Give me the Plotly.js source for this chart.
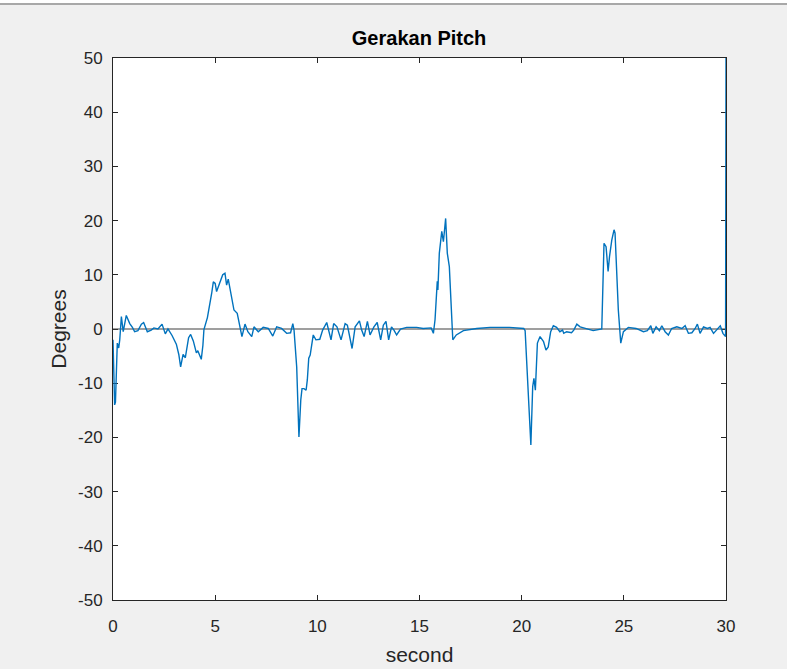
<!DOCTYPE html>
<html>
<head>
<meta charset="utf-8">
<script src="https://cdn.plot.ly/plotly-3.0.1.min.js"></script>
<style>
html,body{margin:0;padding:0;background:#f0f0f0;}
#chart{width:787px;height:669px;}
</style>
</head>
<body>
<div id="chart"></div>
<script>
// time in seconds
const timeSec = [0,0.05,0.08,0.12,0.17,0.21,0.28,0.33,0.41,0.5,0.65,0.75,0.82,0.95,1.06,1.22,1.39,1.5,1.68,1.87,2.0,2.2,2.4,2.56,2.69,2.89,3.0,3.1,3.22,3.31,3.43,3.54,3.7,3.8,3.93,4.08,4.15,4.32,4.4,4.45,4.62,4.72,4.83,4.91,5.0,5.07,5.2,5.37,5.48,5.56,5.64,5.76,5.92,6.08,6.22,6.31,6.46,6.6,6.79,6.9,7.11,7.35,7.6,7.82,8.01,8.25,8.5,8.69,8.8,8.86,8.99,9.1,9.19,9.25,9.35,9.45,9.51,9.58,9.65,9.72,9.8,9.93,10.12,10.26,10.46,10.67,10.8,10.96,11.16,11.36,11.47,11.7,11.85,12.06,12.17,12.29,12.45,12.58,12.77,12.93,13.1,13.23,13.36,13.49,13.63,13.75,13.88,14.07,14.37,14.86,15.18,15.57,15.68,15.76,15.84,15.87,15.9,15.97,16.09,16.17,16.28,16.36,16.46,16.58,16.63,16.8,17.15,17.8,18.45,19.4,20.1,20.17,20.28,20.45,20.54,20.6,20.67,20.77,20.9,21.07,21.19,21.3,21.42,21.55,21.71,21.87,22.0,22.06,22.2,22.44,22.55,22.7,22.86,23.2,23.5,23.92,24.03,24.13,24.23,24.3,24.41,24.52,24.57,24.73,24.85,24.98,25.14,25.22,25.6,25.96,26.15,26.32,26.42,26.58,26.74,26.86,27.02,27.18,27.34,27.59,27.84,28.0,28.16,28.33,28.49,28.6,28.73,28.9,29.09,29.22,29.39,29.55,29.72,29.85,29.98,30.0];
// pitch in degrees
const pitchDeg = [-2,-8,-14,-13.5,-6,-2.6,-3.5,-2,2.3,-0.5,2.5,1.5,1,0.3,-0.5,-0.3,0.9,1.2,-0.5,-0.2,0.2,0,0.9,-0.9,0,-1.2,-2.0,-2.8,-4.7,-7.0,-4.7,-5.3,-1.6,-1,-2.2,-4.4,-4,-5.6,-3,-0.1,2.1,4.1,6.6,8.7,8.4,6.9,8.4,10,10.3,8.1,9.2,6.6,3.5,2.9,0.4,-1.4,0.9,-0.5,-1.4,0.4,-0.5,0.3,0.1,-1.3,0.4,0.1,-0.8,-0.7,1.0,-0.2,-7,-19.9,-13.1,-11,-11,-11.3,-9.4,-5.4,-4.8,-2.6,-1.1,-2,-1.9,-0.2,1.2,-2,1.0,0.4,-2,1,0.7,-3.6,0.4,1.5,-0.2,-1.4,1.4,-1.1,0.4,1.2,-2,0.7,1.4,-2,0.4,-0.2,-1.1,0,0.3,0.3,0.1,0.2,-0.8,1.7,6,8.8,7.2,14,18,16.1,20.4,14,11.5,0.1,-2,-1.1,-0.3,0.1,0.3,0.3,0.1,-0.3,-8.2,-21.4,-10.6,-9.1,-11.3,-2.6,-1.4,-2.3,-3.9,-3.3,-0.5,0.6,0.3,-0.5,-0.2,-0.8,-0.5,-0.7,-0.2,0.9,0.4,0,-0.3,0,15.8,15.2,10.6,13.4,16.4,18.3,17.7,3.5,-2.6,-0.5,0.1,0.3,0.1,-0.5,-0.3,0.6,-0.8,0.4,-0.3,0.6,-0.5,-1.1,0.1,0.4,0.1,0.6,-0.8,-0.7,0.1,0.9,-0.8,0.4,0.1,0.3,-0.8,-0.2,0.6,-0.8,-1.4,50];
// reference line at zero
const refX = [0, 30];
const refY = [0, 0];
const xTicks = [0,5,10,15,20,25,30];
const yTicks = [-50,-40,-30,-20,-10,0,10,20,30,40,50];

const fontFam = '"Liberation Sans", Arial, Helvetica, sans-serif';
const axColor = '#262626';

const traces = [
  {x: refX, y: refY, type: 'scatter', mode: 'lines',
   line: {color: '#404040', width: 1.2}, hoverinfo: 'skip', showlegend: false},
  {x: timeSec, y: pitchDeg, type: 'scatter', mode: 'lines',
   line: {color: '#0072BD', width: 1.4}, hoverinfo: 'x+y', showlegend: false}
];

const axisCommon = {
  showline: true, linecolor: axColor, linewidth: 1, mirror: 'ticks',
  ticks: 'inside', ticklen: 5, tickcolor: axColor, tickwidth: 1,
  showgrid: false, zeroline: false, automargin: false,
  layer: 'below traces',
  tickfont: {family: fontFam, size: 17, color: axColor}
};

const layout = {
  width: 787, height: 669,
  paper_bgcolor: '#f0f0f0', plot_bgcolor: '#ffffff',
  margin: {l: 113, r: 61, t: 58, b: 69, pad: 0},
  title: {text: '<b>Gerakan Pitch</b>', x: 0.5325, xanchor: 'center', y: 0.943, yanchor: 'middle',
          font: {family: fontFam, size: 20, color: '#000000'}},
  xaxis: Object.assign({}, axisCommon, {
    range: [0, 30], tickvals: xTicks, ticktext: xTicks.map(String),
    ticklabelstandoff: 11,
    title: {text: 'second', font: {family: fontFam, size: 21, color: axColor}, standoff: 11}
  }),
  yaxis: Object.assign({}, axisCommon, {
    range: [-50, 50], tickvals: yTicks, ticktext: yTicks.map(String),
    ticklabelstandoff: 6,
    title: {text: 'Degrees', font: {family: fontFam, size: 21, color: axColor}, standoff: 5}
  }),
  shapes: [
    {type: 'rect', xref: 'paper', yref: 'paper', x0: -0.2, x1: 1.2, y0: 1.0996, y1: 1.12,
     fillcolor: '#ffffff', line: {width: 0}, layer: 'above'},
    {type: 'line', xref: 'paper', yref: 'paper', x0: -0.2, x1: 1.2, y0: 1.0996, y1: 1.0996,
     line: {color: '#a8a8a8', width: 2}, layer: 'above'}
  ]
};

Plotly.newPlot('chart', traces, layout, {displayModeBar: false, staticPlot: true});
</script>
</body>
</html>
